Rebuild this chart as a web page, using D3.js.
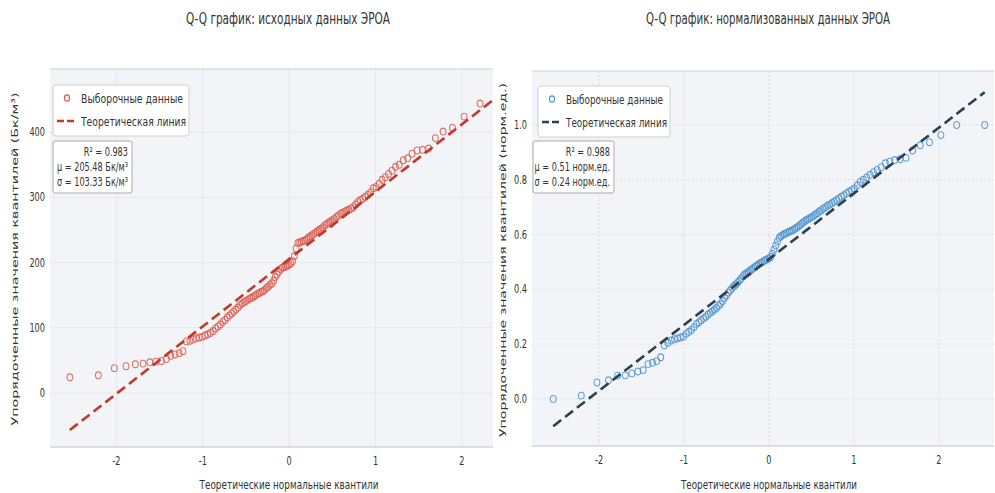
<!DOCTYPE html>
<html>
<head>
<meta charset="utf-8">
<script src="https://cdn.jsdelivr.net/npm/d3@7"></script>
<style>
  body { margin: 0; background: #fff; }
  text { font-family: "DejaVu Sans", sans-serif; fill: #333; }
</style>
</head>
<body>
<svg id="chart"></svg>
<script>
// теоретические квантили (общие для обоих графиков, n = 125)
const theoQ = [
  -2.54,-2.21,-2.025,-1.89,-1.782,-1.692,-1.614,-1.544,-1.481,-1.423,
  -1.371,-1.321,-1.274,-1.231,-1.19,-1.15,-1.112,-1.076,-1.041,-1.007,
  -0.974,-0.943,-0.912,-0.881,-0.853,-0.824,-0.797,-0.769,-0.743,-0.717,
  -0.691,-0.666,-0.642,-0.617,-0.593,-0.57,-0.546,-0.523,-0.5,-0.477,
  -0.455,-0.433,-0.411,-0.39,-0.368,-0.347,-0.326,-0.305,-0.284,-0.263,
  -0.242,-0.222,-0.201,-0.181,-0.161,-0.141,-0.121,-0.1,-0.08,-0.06,
  -0.04,-0.02,0,0.02,0.04,0.06,0.08,0.1,0.121,0.141,
  0.161,0.181,0.201,0.222,0.242,0.263,0.284,0.305,0.326,0.347,
  0.368,0.39,0.411,0.433,0.455,0.477,0.5,0.523,0.546,0.57,
  0.593,0.617,0.642,0.666,0.691,0.717,0.743,0.769,0.797,0.824,
  0.853,0.881,0.912,0.943,0.974,1.007,1.041,1.076,1.112,1.15,
  1.19,1.231,1.274,1.321,1.371,1.423,1.481,1.544,1.614,1.692,
  1.782,1.89,2.025,2.21,2.54
];

// исходные данные ЭРОА (Бк/м³), упорядоченные
const rawValues = [
  24,27,38,41,44,45,47,48,49,52,
  57,59,61,64,79,80,82,84,85,86,
  88,90,92,95,99,102,105,109,112,116,
  119,122,125,128,131,135,137,139,141,143,
  145,146,148,150,152,153,155,156,158,161,
  163,166,168,172,178,182,186,190,192,193,
  194,195,197,199,202,210,222,230,231,232,
  233,234,236,238,240,242,244,246,248,250,
  252,254,257,259,261,263,265,267,270,272,
  275,276,278,280,281,283,285,289,293,296,
  298,301,304,308,314,316,321,327,331,336,
  341,347,350,357,360,367,372,373,375,391,
  401,407,424,444,470
];

// нормализованные данные ЭРОА (норм.ед.)
const normValues = [
  0.0,0.012,0.06,0.068,0.085,0.086,0.093,0.10,0.105,0.127,
  0.132,0.138,0.152,0.195,0.205,0.213,0.218,0.221,0.224,0.228,
  0.238,0.245,0.252,0.262,0.274,0.28,0.287,0.294,0.30,0.308,
  0.314,0.32,0.326,0.332,0.34,0.347,0.357,0.368,0.378,0.388,
  0.397,0.405,0.412,0.418,0.425,0.432,0.44,0.448,0.455,0.459,
  0.463,0.468,0.473,0.478,0.483,0.487,0.492,0.496,0.499,0.503,
  0.507,0.51,0.513,0.518,0.53,0.545,0.56,0.575,0.588,0.594,
  0.598,0.602,0.605,0.608,0.611,0.614,0.617,0.621,0.625,0.63,
  0.635,0.641,0.646,0.651,0.655,0.659,0.663,0.668,0.673,0.678,
  0.684,0.689,0.695,0.70,0.705,0.71,0.715,0.72,0.726,0.732,
  0.738,0.744,0.75,0.756,0.762,0.768,0.78,0.792,0.80,0.808,
  0.818,0.828,0.836,0.846,0.86,0.866,0.872,0.875,0.88,0.907,
  0.926,0.937,0.963,1.0,1.0
];

const rawFit = { mu: 205.48, sigma: 103.33, r2: 0.983 };
const normFit = { mu: 0.51, sigma: 0.24, r2: 0.988 };

const xTicks = [-2, -1, 0, 1, 2];
const rawYTicks = [0, 100, 200, 300, 400];
const normYTicks = [0.0, 0.2, 0.4, 0.6, 0.8, 1.0];

const W = 995, H = 493;
const SX = 0.68; // текст на картинке сжат по горизонтали

const svg = d3.select("#chart").attr("width", W).attr("height", H);

// текст со сжатием по ширине
function txt(g, x, y, s, size, anchor, width) {
  const t = g.append("text")
    .attr("transform", `translate(${x},${y}) scale(${SX},1)`)
    .attr("font-size", size)
    .attr("text-anchor", anchor || "start")
    .text(s);
  if (width) t.attr("textLength", width / SX).attr("lengthAdjust", "spacingAndGlyphs");
  return t;
}

function panel(o) {
  const g = svg.append("g");
  const x = d3.scaleLinear().domain(o.xDom).range([o.left, o.right]);
  const y = d3.scaleLinear().domain(o.yDom).range([o.bottom, o.top]);

  g.append("rect")
    .attr("x", o.left).attr("y", o.top)
    .attr("width", o.right - o.left).attr("height", o.bottom - o.top)
    .attr("fill", "#f3f4f8");

  // сетка
  const grid = g.append("g")
    .attr("stroke", o.gridColor)
    .attr("stroke-width", 1)
    .attr("stroke-dasharray", o.gridDash);
  xTicks.forEach(v => grid.append("line")
    .attr("x1", x(v)).attr("x2", x(v)).attr("y1", o.top).attr("y2", o.bottom));
  o.yTicks.forEach(v => grid.append("line")
    .attr("x1", o.left).attr("x2", o.right).attr("y1", y(v)).attr("y2", y(v)));

  // рамка сверху и снизу
  g.append("line").attr("x1", o.left).attr("x2", o.right).attr("y1", o.top).attr("y2", o.top)
    .attr("stroke", "#dcdcdc").attr("stroke-width", 1.5);
  g.append("line").attr("x1", o.left).attr("x2", o.right).attr("y1", o.bottom).attr("y2", o.bottom)
    .attr("stroke", "#d4d4d4").attr("stroke-width", 1.5);

  // подписи делений
  xTicks.forEach(v => txt(g, x(v), o.bottom + 18, v, 12, "middle"));
  o.yTicks.forEach(v => txt(g, o.left - 5, y(v) + 4, o.yFmt(v), 12, "end"));

  const clipId = "clip" + o.id;
  svg.append("clipPath").attr("id", clipId).append("rect")
    .attr("x", o.left).attr("y", o.top)
    .attr("width", o.right - o.left).attr("height", o.bottom - o.top);
  const plot = g.append("g").attr("clip-path", `url(#${clipId})`);

  const pts = theoQ.map((q, i) => ({ q: q, v: o.values[i] }));
  plot.selectAll("ellipse.pt").data(pts).enter().append("ellipse")
    .attr("class", "pt")
    .attr("cx", d => x(d.q)).attr("cy", d => y(d.v))
    .attr("rx", 2.9).attr("ry", 3.4)
    .attr("fill", "none")
    .attr("stroke", o.ptColor)
    .attr("stroke-width", 1.1)
    .attr("stroke-opacity", 0.85);

  const ext = d3.extent(theoQ);
  plot.append("line")
    .attr("x1", x(ext[0])).attr("y1", y(o.fit.mu + o.fit.sigma * ext[0]))
    .attr("x2", x(ext[1])).attr("y2", y(o.fit.mu + o.fit.sigma * ext[1]))
    .attr("stroke", o.lineColor)
    .attr("stroke-width", 2.6)
    .attr("stroke-dasharray", "10,5");

  // заголовок и оси
  txt(g, o.titleX, 24, o.title, 15, "middle", o.titleW);
  txt(g, o.xLabX, 489, "Теоретические нормальные квантили", 13, "middle", o.xLabW);
  g.append("text")
    .attr("transform", `translate(${o.yLabX},${o.yLabY}) scale(${SX},1) rotate(-90)`)
    .attr("font-size", 14)
    .attr("text-anchor", "middle")
    .attr("dy", "0.35em")
    .attr("textLength", o.yLabLen).attr("lengthAdjust", "spacingAndGlyphs")
    .text(o.yLabel);

  // легенда
  const L = o.legend;
  g.append("rect")
    .attr("x", L.x).attr("y", L.y).attr("width", L.w).attr("height", 51)
    .attr("rx", 3).attr("fill", "#fff").attr("stroke", "#cfcfcf").attr("stroke-width", 1);
  g.append("ellipse")
    .attr("cx", L.x + 14).attr("cy", L.y + 13).attr("rx", 2.6).attr("ry", 3.1)
    .attr("fill", "none").attr("stroke", o.ptColor).attr("stroke-width", 1.2);
  g.append("line")
    .attr("x1", L.x + 4).attr("x2", L.x + 24).attr("y1", L.y + 36).attr("y2", L.y + 36)
    .attr("stroke", o.lineColor).attr("stroke-width", 2.6).attr("stroke-dasharray", "7,3");
  txt(g, L.x + 28, L.y + 18, "Выборочные данные", 13, "start", L.t1);
  txt(g, L.x + 28, L.y + 41, "Теоретическая линия", 13, "start", L.t2);

  // блок статистики
  const S = o.stats;
  g.append("rect")
    .attr("x", S.x).attr("y", S.y).attr("width", S.w).attr("height", 52)
    .attr("rx", 2).attr("fill", "#fff").attr("stroke", "#aaa").attr("stroke-width", 1);
  S.lines.forEach((s, i) => txt(g, S.x + S.w - 4, S.y + 15 + i * 15, s, 12, "end"));
}

panel({
  id: "raw",
  left: 50, right: 493, top: 69, bottom: 447,
  xDom: [-2.77, 2.36], yDom: [-83, 497],
  yTicks: rawYTicks, yFmt: v => v,
  values: rawValues, fit: rawFit,
  ptColor: "#dd5a50", lineColor: "#c0392b",
  gridColor: "#e6e7ec", gridDash: null,
  title: "Q-Q график: исходных данных ЭРОА", titleX: 288, titleW: 204,
  xLabX: 289, xLabW: 179,
  yLabel: "Упорядоченные значения квантилей (Бк/м³)", yLabX: 15, yLabY: 259, yLabLen: 333,
  legend: { x: 53, y: 85, w: 136, t1: 102, t2: 105 },
  stats: { x: 53, y: 141, w: 79, lines: [
    "R² = " + rawFit.r2.toFixed(3),
    "μ = " + rawFit.mu.toFixed(2) + " Бк/м³",
    "σ = " + rawFit.sigma.toFixed(2) + " Бк/м³"] }
});

panel({
  id: "norm",
  left: 532, right: 994, top: 71, bottom: 446,
  xDom: [-2.79, 2.65], yDom: [-0.172, 1.197],
  yTicks: normYTicks, yFmt: d3.format(".1f"),
  values: normValues, fit: normFit,
  ptColor: "#4b93cc", lineColor: "#2c3e50",
  gridColor: "#dcdee4", gridDash: "2,2",
  title: "Q-Q график: нормализованных данных ЭРОА", titleX: 768, titleW: 244,
  xLabX: 769, xLabW: 176,
  yLabel: "Упорядоченные значения квантилей (норм.ед.)", yLabX: 503, yLabY: 260, yLabLen: 354,
  legend: { x: 538, y: 86, w: 132, t1: 97, t2: 101 },
  stats: { x: 533, y: 141, w: 81, lines: [
    "R² = " + normFit.r2.toFixed(3),
    "μ = " + normFit.mu.toFixed(2) + " норм.ед.",
    "σ = " + normFit.sigma.toFixed(2) + " норм.ед."] }
});
</script>
</body>
</html>
